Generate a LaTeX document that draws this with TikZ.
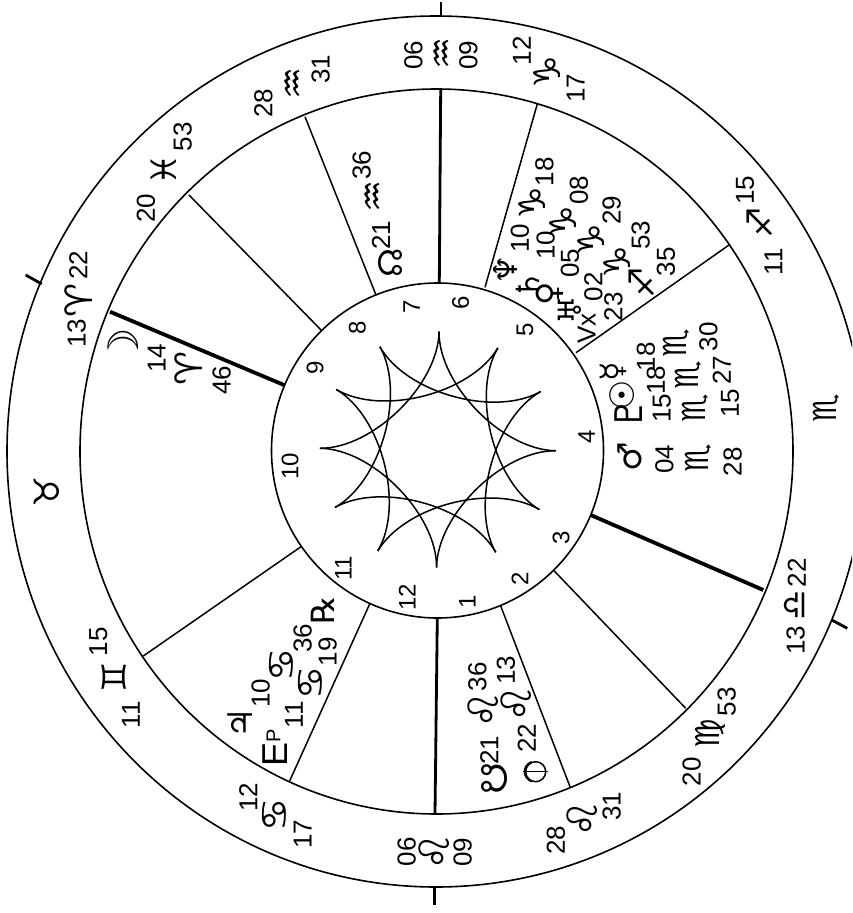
\documentclass[tikz,border=0pt]{standalone}
\usepackage{fontspec}
\setmainfont{Liberation Sans}
\newfontfamily\astrofont{DejaVu Sans}
\tikzset{
	num/.style={rotate=90, inner sep=0pt, font=\fontsize{26}{26}\selectfont},
	house/.style={rotate=90, inner sep=0pt, font=\fontsize{24}{24}\selectfont},
	sym/.style={rotate=90, inner sep=0pt, font=\astrofont\fontsize{#1}{#1}\selectfont},
	ring/.style={line width=1.6pt},
	cusp/.style={line width=1.5pt},
	heavycusp/.style={line width=3.8pt},
	axis/.style={line width=2.8pt}
}
\begin{document}
\begin{tikzpicture}[x=1pt, y=-1pt]
			\useasboundingbox (0, 0) rectangle (852, 913);
			\clip (0, 0) rectangle (852, 913);
			% rings
			\draw[ring] (436, 451.5) ellipse [x radius=429, y radius=435.5];
			\draw[ring] (436.5, 451.5) ellipse [x radius=356.5, y radius=362.5];
			\draw[ring, fill=white] (437.5, 450.5) ellipse [x radius=166, y radius=167.5];
			% cusps
			\draw[axis] (439.3, 283) -- (440.7, 89);
			\draw[axis] (437.3, 618) -- (435, 814);
			\draw[heavycusp] (284, 385) -- (110, 311.7);
			\draw[heavycusp] (590.7, 515) -- (763.3, 590);
			\draw[cusp] (376, 295) -- (305, 116.7);
			\draw[cusp] (321.7, 330.7) -- (189, 195);
			\draw[cusp] (301, 546.7) -- (143.3, 656);
			\draw[cusp] (370, 603.3) -- (289.3, 781.7);
			\draw[cusp] (500.7, 606) -- (570, 786.7);
			\draw[cusp] (554, 570.7) -- (685.7, 708.3);
			\draw[cusp] (485, 287.3) -- (537.3, 104);
			\draw[cusp] (576, 352.7) -- (729, 245);
			% ticks outside
			\draw[axis] (441, 2) -- (441, 16);
			\draw[axis] (434.5, 888) -- (434.5, 905);
			\draw[axis] (41.7, 284) -- (25.7, 275);
			\draw[axis] (831.7, 620) -- (847.3, 628.3);
			% star in the middle
			\begin{scope}[shift={(437.8, 449.5)}]
				\foreach \a in {0, 30, ..., 330}
					\draw[cusp] (\a+0.6:118) .. controls (\a+0.6:65) and (\a+90.6:65) .. (\a+90.6:118);
			\end{scope}
			% house numbers
			\node[house] (h1) at (467.3, 601.7) {1};
			\node[house] (h2) at (520, 579.3) {2};
			\node[house] (h3) at (561, 537.7) {3};
			\node[house] (h4) at (586.7, 436.7) {4};
			\node[house] (h5) at (525, 330) {5};
			\node[house] (h6) at (460.7, 303.3) {6};
			\node[house] (h7) at (411.7, 306.7) {7};
			\node[house] (h8) at (357.3, 328.3) {8};
			\node[house] (h9) at (315, 368.3) {9};
			\node[house] (h10) at (290, 466) {10};
			\node[house] (h11) at (343.3, 568.3) {11};
			\node[house] (h12) at (407.3, 597.3) {12};
			% outer ring
			\node[num] (o1a) at (413.3, 55) {06};
			\node[sym=36] (o1b) at (444, 53) {♒};
			\node[num] (o1c) at (468.3, 55) {09};
			\node[num] (o2a) at (521.7, 50.7) {12};
			\node[sym=37] (o2b) at (546.7, 71.7) {♑};
			\node[num] (o2c) at (575.7, 88.3) {17};
			\node[num] (o3a) at (773.3, 261.7) {11};
			\node[sym=35] (o3b) at (760, 223) {♐};
			\node[num] (o3c) at (745, 190) {15};
			\node[sym=32] (o4) at (826.7, 408.3) {♏};
			\node[num] (o5a) at (795.7, 640) {13};
			\node[sym=34] (o5b) at (795.7, 605.7) {♎};
			\node[num] (o5c) at (796.7, 572.7) {22};
			\node[num] (o6a) at (691.7, 771.7) {20};
			\node[sym=33] (o6b) at (710, 733.3) {♍};
			\node[num] (o6c) at (726.7, 701.7) {53};
			\node[num] (o7a) at (556, 840) {28};
			\node[sym=42] (o7b) at (581.7, 818.3) {♌};
			\node[num] (o7c) at (611.7, 806) {31};
			\node[num] (o8a) at (406.7, 851.7) {06};
			\node[sym=42] (o8b) at (434, 851.7) {♌};
			\node[num] (o8c) at (462.7, 852.3) {09};
			\node[num] (o9a) at (248.3, 797.3) {12};
			\node[sym=37] (o9b) at (275, 815) {♋};
			\node[num] (o9c) at (302.7, 834) {17};
			\node[num] (o10a) at (131, 715) {11};
			\node[sym=34] (o10b) at (114, 677.3) {♊};
			\node[num] (o10c) at (98.3, 641.7) {15};
			\node[sym=35] (o11) at (46.7, 491.7) {♉};
			\node[num] (o12a) at (76.7, 333.3) {13};
			\node[sym=38] (o12b) at (78.3, 300) {♈};
			\node[num] (o12c) at (78.3, 265) {22};
			\node[num] (o13a) at (146, 208.3) {20};
			\node[sym=35] (o13b) at (163.3, 170) {♓};
			\node[num] (o13c) at (182.7, 136.7) {53};
			\node[num] (o14a) at (263.3, 103.3) {28};
			\node[sym=36] (o14b) at (295, 83.3) {♒};
			\node[num] (o14c) at (320.7, 69.3) {31};
			% planets, top right
			\node[sym=33] (nep) at (505, 270) {♆};
			\node[num] (nepa) at (520, 238.3) {10};
			\node[sym=37] (nepb) at (531.7, 203.3) {♑};
			\node[num] (nepc) at (544.3, 171.7) {18};
			\node[sym=32] (sat) at (528.3, 285) {♄};
			\node[num] (sata) at (545.7, 245) {10};
			\node[sym=37] (satb) at (562.7, 221.7) {♑};
			\node[num] (satc) at (579, 190) {08};
			\node[sym=32] (ven) at (550, 293.3) {♀};
			\node[num] (vena) at (570, 263.3) {05};
			\node[sym=37] (venb) at (591, 240) {♑};
			\node[num] (venc) at (611.7, 210) {29};
			\node[sym=32] (ura) at (570, 310) {♅};
			\node[num] (uraa) at (593.3, 286.7) {02};
			\node[sym=37] (urab) at (616.7, 261.7) {♑};
			\node[num] (urac) at (640.7, 235) {53};
			\node[num] (vtx) at (586.7, 328.3) {Vx};
			\node[num] (vtxa) at (613.3, 306.7) {23};
			\node[sym=35] (vtxb) at (641.7, 283.3) {♐};
			\node[num] (vtxc) at (666, 261.7) {35};
			% planets, right
			\node[sym=32] (mer) at (613.3, 371.7) {☿};
			\node[num] (mera) at (646, 356.7) {18};
			\node[sym=32] (merb) at (676.7, 343.3) {♏};
			\node[num] (merc) at (708.3, 336.7) {30};
			\node[sym=34] (sun) at (621.7, 395) {☉};
			\node[num] (suna) at (656, 380) {18};
			\node[sym=32] (sunb) at (688.3, 375) {♏};
			\node[num] (sunc) at (721.7, 370) {27};
			\node[sym=38] (plu) at (628.3, 413.3) {♇};
			\node[num] (plua) at (661.7, 408) {15};
			\node[sym=32] (plub) at (695, 408.3) {♏};
			\node[num] (pluc) at (730, 403.3) {15};
			\node[sym=33] (mar) at (630, 456.7) {♂};
			\node[num] (mara) at (664.3, 459.3) {04};
			\node[sym=32] (marb) at (698.3, 458.3) {♏};
			\node[num] (marc) at (732.7, 461.7) {28};
			% planets, bottom
			\node[sym=36] (snode) at (494, 778.3) {☋};
			\node[num] (snodea) at (489.3, 750) {21};
			\node[sym=42] (snodeb) at (482.7, 710) {♌};
			\node[num] (snodec) at (477.3, 676.7) {36};
			\draw[cusp] (535.7, 771.7) circle [radius=10];
			\draw[cusp] (523.3, 771.7) -- (548, 771.7);
			\draw[cusp] (531.7, 761.7) .. controls (522, 765) and (522, 778) .. (531.7, 781.7);
			\node[num] (forta) at (526.7, 738.3) {22};
			\node[sym=42] (fortb) at (516, 703.3) {♌};
			\node[num] (fortc) at (506, 670) {13};
			% planets, bottom left
			\node[sym=34] (jup) at (240, 723.3) {♃};
			\node[num] (jupa) at (260.7, 693.3) {10};
			\node[sym=37] (jupb) at (281.7, 665) {♋};
			\node[num] (jupc) at (302.7, 638.3) {36};
			\node[sym=32] (retro) at (323.3, 610) {℞};
			\node[rotate=90, inner sep=0pt, font=\fontsize{36}{36}\selectfont] (ep) at (275, 748.3) {E\raisebox{7pt}{\fontsize{20}{20}\selectfont P}};
			\node[num] (epa) at (294, 715) {11};
			\node[sym=37] (epb) at (310.7, 682.7) {♋};
			\node[num] (epc) at (327.7, 651.7) {19};
			% moon and node
			\node[sym=42] (moon) at (123.3, 346.7) {☽};
			\node[num] (moona) at (156.7, 358.3) {14};
			\node[sym=38] (moonb) at (188.3, 368.3) {♈};
			\node[num] (moonc) at (221.7, 380) {46};
			\node[sym=33] (nnode) at (390, 263.3) {☊};
			\node[num] (nnodea) at (381, 235) {21};
			\node[sym=36] (nnodeb) at (375, 196.7) {♒};
			\node[num] (nnodec) at (361.7, 165) {36};
		\end{tikzpicture}
\end{document}
